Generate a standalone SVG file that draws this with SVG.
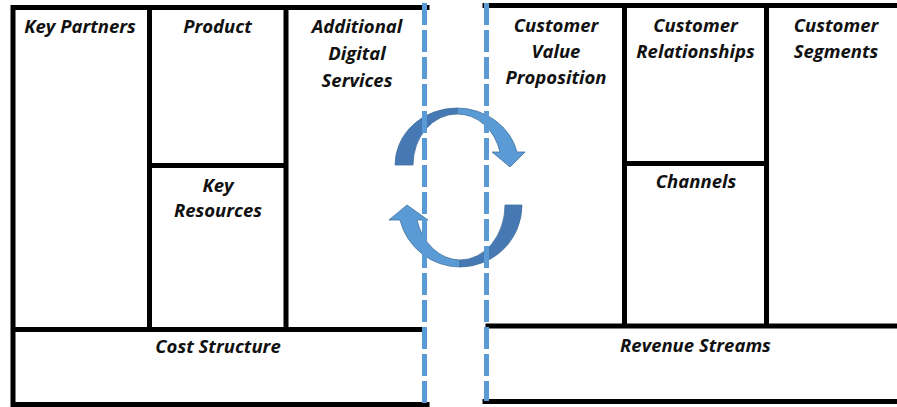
<svg xmlns="http://www.w3.org/2000/svg" width="897" height="407" viewBox="0 0 897 407">
  <defs>
    <style>
      .lbl { font-family: "Open Sans", "Liberation Sans", sans-serif; font-weight: bold; font-style: italic; font-size: 18.5px; fill: #111111; text-anchor: middle; }
      .frame { stroke: #000000; stroke-width: 5; fill: none; stroke-linecap: square; }
      .cell { fill: #ffffff; stroke: none; }
      .dash { stroke: #5b9bd5; stroke-width: 5; fill: none; stroke-dasharray: 22 5; }
      .arrow-light { fill: #5b9bd5; stroke: #41719c; stroke-width: 0.8; }
      .arrow-dark { fill: #4678b4; stroke: #41719c; stroke-width: 0.8; }
    </style>
  </defs>
  <rect width="897" height="407" fill="#ffffff"/>

  <!-- Left canvas nodes -->
  <g id="key-partners">
    <rect class="cell" x="13" y="7.5" width="136.5" height="322"/>
    <text class="lbl" x="80" y="33">Key Partners</text>
  </g>
  <g id="product">
    <rect class="cell" x="149.5" y="7.5" width="136.5" height="158"/>
    <text class="lbl" x="217.5" y="33">Product</text>
  </g>
  <g id="key-resources">
    <rect class="cell" x="149.5" y="165.5" width="136.5" height="164"/>
    <text class="lbl" x="218" y="192">Key</text>
    <text class="lbl" x="218" y="217">Resources</text>
  </g>
  <g id="additional-digital-services">
    <rect class="cell" x="286" y="7.5" width="138.5" height="322"/>
    <text class="lbl" x="357" y="33">Additional</text>
    <text class="lbl" x="357" y="60">Digital</text>
    <text class="lbl" x="357" y="87">Services</text>
  </g>
  <g id="cost-structure">
    <rect class="cell" x="13" y="329.5" width="411.5" height="75"/>
    <text class="lbl" x="218" y="353">Cost Structure</text>
  </g>

  <!-- Right canvas nodes -->
  <g id="customer-value-proposition">
    <rect class="cell" x="486.5" y="5.5" width="138" height="320.5"/>
    <text class="lbl" x="556" y="32">Customer</text>
    <text class="lbl" x="556" y="58">Value</text>
    <text class="lbl" x="556" y="84">Proposition</text>
  </g>
  <g id="customer-relationships">
    <rect class="cell" x="624.5" y="5.5" width="142" height="158"/>
    <text class="lbl" x="695.5" y="32">Customer</text>
    <text class="lbl" x="695.5" y="58">Relationships</text>
  </g>
  <g id="channels">
    <rect class="cell" x="624.5" y="163.5" width="142" height="162.5"/>
    <text class="lbl" x="696" y="188">Channels</text>
  </g>
  <g id="customer-segments">
    <rect class="cell" x="766.5" y="5.5" width="130.5" height="320.5"/>
    <text class="lbl" x="836" y="32">Customer</text>
    <text class="lbl" x="836" y="58">Segments</text>
  </g>
  <g id="revenue-streams">
    <rect class="cell" x="486.5" y="326" width="410.5" height="75.5"/>
    <text class="lbl" x="695.5" y="352">Revenue Streams</text>
  </g>

  <!-- Frame lines -->
  <g id="frame" class="frame">
    <path d="M13 7.5 H427 M13 7.5 V407 M13 404.5 H427 M149.5 7.5 V329.5 M286 7.5 V329.5 M13 329.5 H424 M149.5 165.5 H286"/>
    <path d="M485 5.5 H900 M485 401.5 H900 M488 326 H900 M624.5 5.5 V326 M766.5 5.5 V326 M624.5 163.5 H766.5"/>
  </g>

  <!-- Connectors: circular arrows -->
  <g id="connectors">
    <g id="arrow-top">
      <path class="arrow-light" d="M457 108 A62 57 0 0 1 517 152 L525 152 L510 167 L492 152 L500 152 A44 51 0 0 0 457 114 Z"/>
      <path class="arrow-dark" d="M395 165 A62 57 0 0 1 457 108 L457 114 A44 51 0 0 0 413 165 Z"/>
    </g>
    <g id="arrow-bottom">
      <path class="arrow-light" d="M460 267 A62 62 0 0 1 400 220 L389 220 L407 205 L428 220 L417 220 A45 55 0 0 0 460 260 Z"/>
      <path class="arrow-dark" d="M522 205 A62 62 0 0 1 460 267 L460 260 A45 55 0 0 0 505 205 Z"/>
    </g>
  </g>

  <!-- Dashed separators -->
  <g id="separators" class="dash">
    <path d="M424.5 3 V404"/>
    <path d="M486.5 3 V401"/>
  </g>
</svg>
